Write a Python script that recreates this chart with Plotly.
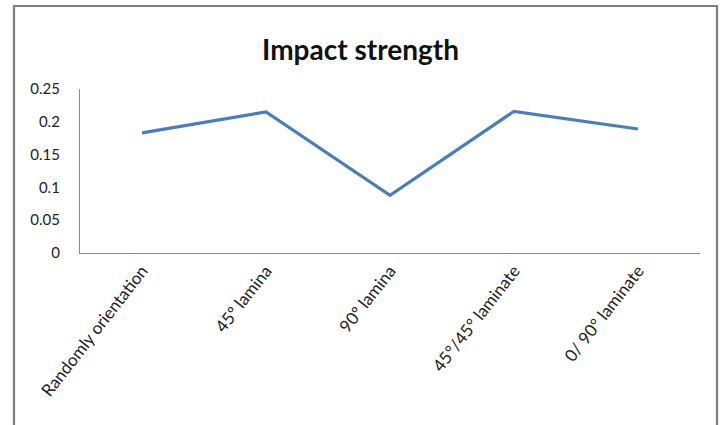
import plotly.graph_objects as go

categories = ["Randomly orientation", "45º lamina", "90º lamina", "45°/45° laminate", "0/ 90° laminate"]
values = [0.183, 0.215, 0.088, 0.216, 0.189]
y_ticks = [0, 0.05, 0.1, 0.15, 0.2, 0.25]
y_tick_labels = ["0", "0.05", "0.1", "0.15", "0.2", "0.25"]

L, R, T, B = 80, 21, 89, 172
W, H = 721, 425
pw, ph = W - L - R, H - T - B

def px_x(x):
    return (x - L) / pw

def px_y(y):
    return (H - B - y) / ph

fig = go.Figure()
fig.add_trace(go.Scatter(
    x=categories, y=values, mode="lines",
    line=dict(color="#4A7EBB", width=3.2),
    showlegend=False,
))

fig.update_layout(
    width=W, height=H,
    margin=dict(l=L, r=R, t=T, b=B),
    paper_bgcolor="white", plot_bgcolor="white",
    font=dict(family="Lato, Open Sans, sans-serif", color="#222222"),
    title=dict(text="<b>Impact strength</b>", x=0.5, xanchor="center",
               y=1 - 50 / H, yanchor="middle",
               font=dict(size=28, family="Lato, Open Sans, sans-serif", color="#111111")),
    xaxis=dict(
        type="category", range=[-0.5, 4.5], showgrid=False, zeroline=False,
        showline=True, linecolor="#8a8a8a", linewidth=1.3,
        tickangle=-52, tickfont=dict(size=17, color="#222222"), ticks="",
        fixedrange=True,
    ),
    yaxis=dict(
        range=[0, 0.25], tickvals=y_ticks, ticktext=y_tick_labels,
        showgrid=False, zeroline=False,
        showline=True, linecolor="#8a8a8a", linewidth=1.3,
        tickfont=dict(size=15, color="#222222"), ticks="", ticklen=0,
        ticklabelstandoff=16, fixedrange=True,
    ),
    shapes=[dict(
        type="rect", xref="paper", yref="paper",
        x0=px_x(14), x1=px_x(717), y0=px_y(440), y1=px_y(6),
        line=dict(color="#7f7f7f", width=2.2), fillcolor="rgba(0,0,0,0)",
        layer="below",
    )],
)

fig.write_html("out.html")
